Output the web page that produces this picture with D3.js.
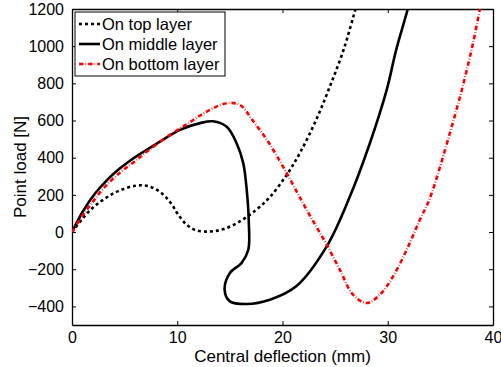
<!DOCTYPE html>
<html>
<head>
<meta charset="utf-8">
<script src="https://cdn.jsdelivr.net/npm/d3@7"></script>
<style>
  body { margin: 0; background: #fff; }
  text { font-family: "Liberation Sans", Arial, sans-serif; }
</style>
</head>
<body>
<div id="chartDiv"></div>
<script>
// data: [deflection mm, load N]
var topLayer = [[0,0],[1,72],[2,132],[3,175],[4,210],[5,234],[6,249],[6.8,251],[7.7,238],[8.7,200],[9.5,147],
  [10.1,93],[10.9,39],[11.8,9],[13.1,3],[14.4,16],[15.95,57],[17.5,120],[18.8,188],[20.4,308],[21.65,425],
  [23.2,604],[24.5,783],[25.8,980],[26.94,1200],[27.2,1250]];
var middleLayer = [[0,0],[1.04,112],[2.15,205],[3.42,285],[4.5,340],[5.6,388],[6.46,420],[8.36,487],[10.26,550],
  [12.16,586],[13.4,596],[14.7,566],[15.64,478],[16.27,371],[16.6,227],[16.8,50],[16.75,-95],[16.1,-167],
  [15.0,-220],[14.5,-310],[15.0,-373],[16.6,-387],[18.8,-364],[21.3,-292],[24.2,-77],[26.4,191],[28.3,478],
  [29.9,765],[30.8,980],[31.9,1200],[32.1,1250]];
var bottomLayer = [[0,0],[0.89,80],[1.83,152],[3.1,242],[4.68,326],[5.95,380],[7.4,445],[9.3,523],[10.9,580],
  [12.8,648],[14.7,693],[15.95,684],[17.2,598],[18.7,480],[20.45,312],[21.9,160],[23.2,30],[24.2,-68],
  [25.45,-203],[26.7,-337],[28.0,-382],[29.25,-337],[30.5,-239],[31.8,-95],[33.05,66],[34.0,182],[35.9,532],
  [37.2,801],[38.1,1016],[38.75,1200],[38.9,1250]];

var seriesNames = ["On top layer", "On middle layer", "On bottom layer"];
var seriesColors = ["#000", "#000", "#ff0000"];
var seriesDash = ["3,3", null, "4.5,2,0.6,2"];
var xTicks = [0, 10, 20, 30, 40];
var yTicks = [-400, -200, 0, 200, 400, 600, 800, 1000, 1200];

var svg = d3.select("#chartDiv").append("svg")
    .attr("width", 501).attr("height", 367);

var margin = {left: 72, right: 8, top: 9, bottom: 42};
var width = 501 - margin.left - margin.right,
    height = 367 - margin.top - margin.bottom;
var fs = 16, fsLegend = 16.5, fsLabel = 17;

var x_scale = d3.scaleLinear().domain([0, 40]).range([margin.left, margin.left + width]);
var y_scale = d3.scaleLinear().domain([-500, 1200]).range([margin.top + height, margin.top]);

svg.append("clipPath").attr("id", "plotclip").append("rect")
    .attr("x", margin.left).attr("y", margin.top).attr("width", width).attr("height", height);

// axes, ticks pointing inward on all four sides
svg.append("g").attr("transform", "translate(0," + (margin.top + height) + ")")
    .call(d3.axisBottom(x_scale).tickValues(xTicks).tickSizeInner(-4).tickSizeOuter(0).tickPadding(6.5)
      .tickFormat(d3.format("d")));
svg.append("g").attr("transform", "translate(0," + margin.top + ")")
    .call(d3.axisTop(x_scale).tickValues(xTicks).tickSizeInner(-4).tickSizeOuter(0).tickFormat(""));
svg.append("g").attr("transform", "translate(" + margin.left + ",0)")
    .call(d3.axisLeft(y_scale).tickValues(yTicks).tickSizeInner(-4).tickSizeOuter(0).tickPadding(8)
      .tickFormat(d3.format("d")));
svg.append("g").attr("transform", "translate(" + (margin.left + width) + ",0)")
    .call(d3.axisRight(y_scale).tickValues(yTicks).tickSizeInner(-4).tickSizeOuter(0).tickFormat(""));

svg.selectAll(".domain").attr("stroke", "#000").attr("stroke-width", 1.3);
svg.selectAll(".tick line").attr("stroke", "#000").attr("stroke-width", 1);
svg.selectAll(".tick text").attr("font-size", fs).attr("fill", "#000")
    .style("font-family", "'Liberation Sans', Arial, sans-serif");

// curves
var line = d3.line()
    .x(function(d){ return x_scale(d[0]); })
    .y(function(d){ return y_scale(d[1]); })
    .curve(d3.curveCatmullRom.alpha(0.5));

var plot = svg.append("g").attr("clip-path", "url(#plotclip)");
[topLayer, middleLayer, bottomLayer].forEach(function(s, i){
  plot.append("path").datum(s)
    .attr("d", line)
    .attr("fill", "none")
    .attr("stroke", seriesColors[i])
    .attr("stroke-width", 2.6)
    .attr("stroke-dasharray", seriesDash[i]);
});

// legend
var legend = svg.append("g");
legend.append("rect")
    .attr("x", 75).attr("y", 12).attr("width", 150).attr("height", 64)
    .attr("fill", "#fff").attr("stroke", "#000").attr("stroke-width", 1);
seriesNames.forEach(function(name, i){
  var yy = 24 + i * 20;
  legend.append("line")
    .attr("x1", 79).attr("x2", 100).attr("y1", yy).attr("y2", yy)
    .attr("stroke", seriesColors[i]).attr("stroke-width", 2.6)
    .attr("stroke-dasharray", seriesDash[i]);
  legend.append("text")
    .attr("x", 102).attr("y", yy + 6)
    .attr("font-size", fsLegend).text(name);
});

// axis labels
svg.append("text")
    .attr("x", x_scale(20)).attr("y", 361.5)
    .attr("text-anchor", "middle").attr("font-size", fsLabel)
    .text("Central deflection (mm)");
svg.append("text")
    .attr("transform", "translate(26," + y_scale(350) + ") rotate(-90)")
    .attr("text-anchor", "middle").attr("font-size", fsLabel)
    .text("Point load [N]");
</script>
</body>
</html>
